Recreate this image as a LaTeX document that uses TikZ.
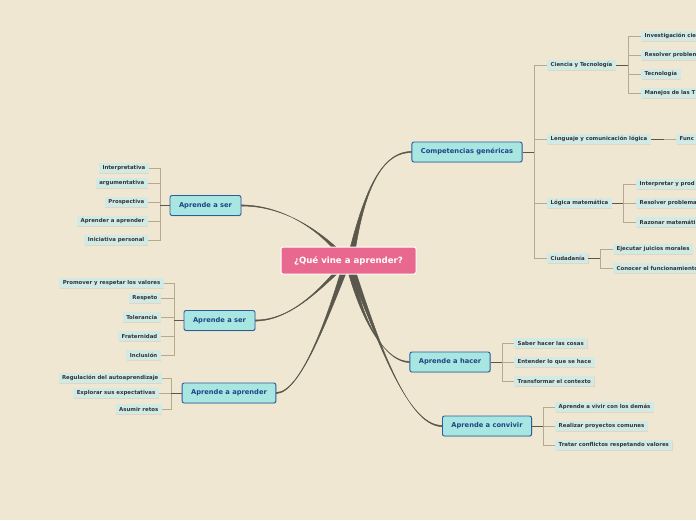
\documentclass[tikz,border=0pt]{standalone}
\usepackage{fontspec}
\setmainfont{DejaVu Sans}
\usetikzlibrary{calc,shadows}
\definecolor{Fondo}{HTML}{EFE7D1}
\definecolor{Rosa}{HTML}{E9688F}
\definecolor{Turquesa}{HTML}{A8E6E2}
\definecolor{AzulBorde}{HTML}{2C5C9C}
\definecolor{AzulTexto}{HTML}{1E4585}
\definecolor{Hoja}{HTML}{D2EAE6}
\definecolor{Rama}{HTML}{5A574C}
\definecolor{Tallo}{HTML}{B4AA90}
\definecolor{TextoHoja}{HTML}{333333}
\pgfdeclarelayer{ramas}
\pgfsetlayers{ramas,main}
% rama gruesa desde la raiz: desplazamiento, control 1, control 2, destino
\newcommand{\rama}[4]{%
  \filldraw[rama] ($(raiz.center)+(#1)+(-3.5,0)$) .. controls (#2) and (#3) .. ($(#4)+(0,-0.6)$)
    -- ($(#4)+(0,0.6)$) .. controls (#3) and (#2) .. ($(raiz.center)+(#1)+(3.5,0)$) -- cycle;}
% llave: ancla del tema, x de la llave, hojas, ancla de la hoja
\newcommand{\llave}[4]{%
  \coordinate (ll) at (#2,0);
  \foreach \h in {#3} \draw[tallo] (ll |- #1) -- (ll |- \h.#4) -- (\h.#4);
  \draw[union] (#1) -- (ll |- #1);}
\tikzset{
  raiz/.style  = {draw=white, line width=1pt, rounded corners=2pt, fill=Rosa,
                  text=white, font=\fontsize{8.6}{10}\selectfont\bfseries,
                  minimum width=135pt, minimum height=27pt},
  tema/.style  = {draw=AzulBorde, line width=0.9pt, rounded corners=2pt,
                  fill=Turquesa, text=AzulTexto,
                  font=\fontsize{6.7}{8}\selectfont\bfseries,
                  minimum height=20pt, inner xsep=9pt,
                  drop shadow={shadow xshift=0.6pt, shadow yshift=-0.8pt, opacity=0.25}},
  hoja/.style  = {fill=Hoja, text=TextoHoja,
                  font=\fontsize{5.4}{6}\selectfont\bfseries,
                  minimum height=10pt, inner xsep=3.5pt, inner ysep=1pt,
                  drop shadow={shadow xshift=0.4pt, shadow yshift=-0.6pt, opacity=0.15}},
  corte/.style = {text width=#1, align=left},
  rama/.style  = {fill=Rama, draw=Rama, line width=0.5pt},
  union/.style = {draw=Rama, line width=0.8pt},
  tallo/.style = {draw=Tallo, line width=0.8pt},
}
\begin{document}
\begin{tikzpicture}[x=1pt, y=-1pt]
  \begin{pgfonlayer}{ramas}
    \fill[Fondo] (0,0) rectangle (696,520);
  \end{pgfonlayer}
  \useasboundingbox (0,0) rectangle (696,520);
  \clip (0,0) rectangle (696,520);

  % Raiz y temas
  \node[raiz] (raiz) at (348.5,260.5) {¿Qué vine a aprender?};
  \node[tema] (comp) at (467,152) {Competencias genéricas};
  \node[tema] (ser1) at (205.5,205.5) {Aprende a ser};
  \node[tema] (ser2) at (219.5,320.5) {Aprende a ser};
  \node[tema] (apr) at (229,393) {Aprende a aprender};
  \node[tema] (hac) at (450,362) {Aprende a hacer};
  \node[tema] (con) at (487,426) {Aprende a convivir};

  % Competencias genericas
  \node[hoja, anchor=west] (cyt) at (547,65) {Ciencia y Tecnología};
  \node[hoja, anchor=west] (len) at (547,139) {Lenguaje y comunicación lógica};
  \node[hoja, anchor=west] (log) at (547,203) {Lógica matemática};
  \node[hoja, anchor=west] (ciu) at (547,258) {Ciudadanía};
  \llave{comp.east}{534}{cyt,len,log,ciu}{west}

  \node[hoja, anchor=west, corte=80pt] (cyt1) at (641,36) {Investigación cie};
  \node[hoja, anchor=west, corte=80pt] (cyt2) at (641,55) {Resolver problem};
  \node[hoja, anchor=west] (cyt3) at (641,74) {Tecnología};
  \node[hoja, anchor=west, corte=80pt] (cyt4) at (641,93) {Manejos de las T};
  \llave{cyt.east}{628}{cyt1,cyt2,cyt3,cyt4}{west}

  \node[hoja, anchor=west, corte=30pt] (len1) at (676,139) {Func};
  \llave{len.east}{664}{len1}{west}

  \node[hoja, anchor=west, corte=80pt] (log1) at (636,184) {Interpretar y prod};
  \node[hoja, anchor=west, corte=80pt] (log2) at (636,203) {Resolver problema};
  \node[hoja, anchor=west, corte=80pt] (log3) at (636,222) {Razonar matemáti};
  \llave{log.east}{623}{log1,log2,log3}{west}

  \node[hoja, anchor=west] (ciu1) at (613,249) {Ejecutar juicios morales};
  \node[hoja, anchor=west, corte=100pt] (ciu2) at (613,268) {Conocer el funcionamiento};
  \llave{ciu.east}{600}{ciu1,ciu2}{west}

  % Aprende a ser (arriba)
  \node[hoja, anchor=east] (s1a) at (149,168) {Interpretativa};
  \node[hoja, anchor=east] (s1b) at (148,183) {argumentativa};
  \node[hoja, anchor=east] (s1c) at (148,202) {Prospectiva};
  \node[hoja, anchor=east] (s1d) at (148,221) {Aprender a aprender};
  \node[hoja, anchor=east] (s1e) at (148,240) {Iniciativa personal};
  \llave{ser1.west}{160}{s1a,s1b,s1c,s1d,s1e}{east}

  % Aprende a ser (medio)
  \node[hoja, anchor=east] (s2a) at (164,283) {Promover y respetar los valores};
  \node[hoja, anchor=east] (s2b) at (161,298) {Respeto};
  \node[hoja, anchor=east] (s2c) at (161,317) {Tolerancia};
  \node[hoja, anchor=east] (s2d) at (161,336) {Fraternidad};
  \node[hoja, anchor=east] (s2e) at (161,355) {Inclusión};
  \llave{ser2.west}{174}{s2a,s2b,s2c,s2d,s2e}{east}

  % Aprende a aprender
  \node[hoja, anchor=east] (apa) at (162,378) {Regulación del autoaprendizaje};
  \node[hoja, anchor=east] (apb) at (159,393) {Explorar sus expectativas};
  \node[hoja, anchor=east] (apc) at (162,409) {Asumir retos};
  \llave{apr.west}{171}{apa,apb,apc}{east}

  % Aprende a hacer
  \node[hoja, anchor=west] (ha) at (514,343) {Saber hacer las cosas};
  \node[hoja, anchor=west] (hb) at (514,362) {Entender lo que se hace};
  \node[hoja, anchor=west] (hc) at (514,381) {Transformar el contexto};
  \llave{hac.east}{502}{ha,hb,hc}{west}

  % Aprende a convivir
  \node[hoja, anchor=west] (ca) at (555,407) {Aprende a vivir con los demás};
  \node[hoja, anchor=west] (cb) at (555,426) {Realizar proyectos comunes};
  \node[hoja, anchor=west] (cc) at (555,445) {Tratar conflictos respetando valores};
  \llave{con.east}{543}{ca,cb,cc}{west}

  % Ramas desde la raiz
  \begin{pgfonlayer}{ramas}
    \rama{1.5,1.5}{362,200}{378,152}{comp.west}
    \rama{-4.5,-2.5}{322,232}{285,205.5}{ser1.east}
    \rama{-2.5,1.5}{320,290}{290,320.5}{ser2.east}
    \rama{-1.5,1.5}{327,320}{300,393}{apr.east}
    \rama{0.5,1.5}{360,320}{385,362}{hac.west}
    \rama{0.5,1.5}{375,330}{405,426}{con.west}
  \end{pgfonlayer}
\end{tikzpicture}
\end{document}
